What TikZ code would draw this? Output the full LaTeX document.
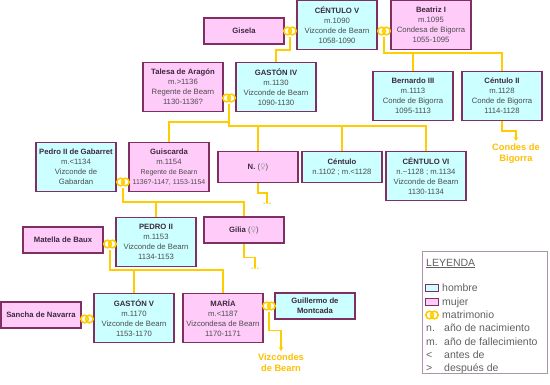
\documentclass[tikz,border=0pt]{standalone}
\usepackage{fontspec}
\setmainfont{Liberation Sans}
\newfontfamily\symfont{DejaVu Sans}
\usetikzlibrary{positioning, arrows.meta}

\definecolor{manfill}{RGB}{204,255,255}
\definecolor{womanfill}{RGB}{255,204,250}
\definecolor{border}{RGB}{128,48,96}
\definecolor{gold}{RGB}{255,204,0}
\definecolor{tagcol}{RGB}{255,190,0}
\definecolor{ink}{RGB}{60,40,60}
\definecolor{legframe}{RGB}{170,150,170}
\definecolor{legink}{RGB}{96,96,96}

\newcommand{\fem}{{\symfont\color{black!35}♀}}

\begin{document}
\begin{tikzpicture}[x=1pt, y=-1pt,
    person/.style={rectangle, draw=border, line width=1.2pt, fill=#1, minimum width=80pt, align=center, inner sep=1pt, font=\fontsize{7.7}{10}\selectfont, text=black!70},
    man/.style={person=manfill},
    woman/.style={person=womanfill},
    tall/.style={minimum height=49pt},
    short/.style={minimum height=26pt},
    wed/.style={rectangle, inner sep=0pt, minimum width=16pt, minimum height=11pt,
        path picture={\draw[gold, line width=1.6pt]
            ([xshift=-2.4pt]path picture bounding box.center) circle (3.8pt)
            ([xshift=2.4pt]path picture bounding box.center) circle (3.8pt);}},
    link/.style={draw=gold, line width=1.5pt},
    arrow/.style={link, -{Stealth[length=4pt, width=4.5pt]}},
    tag/.style={font=\fontsize{9.3}{11}\selectfont\bfseries, text=tagcol, align=center, inner sep=1pt},
    dots/.style={font=\fontsize{9}{9}\selectfont\bfseries, text=gold, inner sep=0pt},
    legtext/.style={font=\fontsize{10.5}{12}\selectfont, text=legink, inner sep=1pt},
]
\useasboundingbox (0,0) rectangle (550,384);

% ========== GENERATION 1 ==========
\node[woman, short] (gis) at (244,31) {\textbf{\color{ink}Gisela}};
\node[man, tall] (c5) at (337,25) {\textbf{\color{ink}CÉNTULO V}\\ m.1090\\ Vizconde de Bearn\\ 1058-1090};
\node[woman, tall] (bea) at (431,25) {\textbf{\color{ink}Beatriz I}\\ m.1095\\ Condesa de Bigorra\\ 1055-1095};

% ========== GENERATION 2 ==========
\node[woman, tall] (tal) at (183,87) {\textbf{\color{ink}Talesa de Aragón}\\ m.>1136\\ Regente de Bearn\\ 1130-1136?};
\node[man, tall] (g4) at (276,87) {\textbf{\color{ink}GASTÓN IV}\\ m.1130\\ Vizconde de Bearn\\ 1090-1130};
\node[man, tall] (b3) at (413,96) {\textbf{\color{ink}Bernardo III}\\ m.1113\\ Conde de Bigorra\\ 1095-1113};
\node[man, tall] (c2) at (502,96) {\textbf{\color{ink}Céntulo II}\\ m.1128\\ Conde de Bigorra\\ 1114-1128};

% ========== GENERATION 3 ==========
\node[man, tall] (pga) at (76,167) {\textbf{\color{ink}Pedro II de Gabarret}\\ m.<1134\\ Vizconde de\\ Gabardan};
\node[woman, tall] (gui) at (169,167) {\textbf{\color{ink}Guiscarda}\\ m.1154\\ {\fontsize{7}{9}\selectfont Regente de Bearn}\\ {\fontsize{7}{9}\selectfont 1136?-1147, 1153-1154}};
\node[woman, minimum height=31pt] (nn) at (258,167) {\textbf{\color{ink}N.} (\fem)};
\node[man, minimum height=31pt] (cen) at (342,167) {\textbf{\color{ink}Céntulo}\\ n.1102 ; m.<1128};
\node[man, tall] (c6) at (426,176) {\textbf{\color{ink}CÉNTULO VI}\\ n.\textasciitilde1128 ; m.1134\\ Vizconde de Bearn\\ 1130-1134};

% ========== GENERATION 4 ==========
\node[woman, short] (mat) at (63,240) {\textbf{\color{ink}Matella de Baux}};
\node[man, tall] (p2) at (156,242) {\textbf{\color{ink}PEDRO II}\\ m.1153\\ Vizconde de Bearn\\ 1134-1153};
\node[woman, short] (gil) at (244,230) {\textbf{\color{ink}Gilia} (\fem)};

% ========== GENERATION 5 ==========
\node[woman, short] (san) at (41,315) {\textbf{\color{ink}Sancha de Navarra}};
\node[man, tall] (g5) at (134,318) {\textbf{\color{ink}GASTÓN V}\\ m.1170\\ Vizconde de Bearn\\ 1153-1170};
\node[woman, tall] (mar) at (223,318) {\textbf{\color{ink}MARÍA}\\ m.<1187\\ Vizcondesa de Bearn\\ 1170-1171};
\node[man, short] (gmo) at (315,306) {\textbf{\color{ink}Guillermo de}\\ \textbf{\color{ink}Montcada}};

% ========== MARRIAGES ==========
\node[wed] (w1) at (290,31) {};
\node[wed] (w2) at (384,31) {};
\node[wed] (w3) at (229,98) {};
\node[wed] (w4) at (123,182) {};
\node[wed] (w5) at (110,244) {};
\node[wed] (w6) at (87,319) {};
\node[wed] (w7) at (269,306) {};

% ========== CONTINUATIONS ==========
\node[dots, anchor=north] (d1) at (267,203) {…};
\node[dots, anchor=north] (d2) at (255,268) {…};
\node[tag, anchor=north] (cb) at (516,143) {Condes de\\ Bigorra};
\node[tag, anchor=north] (vb) at (281,353) {Vizcondes\\ de Bearn};

% ========== DESCENT LINES ==========
\coordinate (j1) at (290,50);
\coordinate (j2) at (384,53);
\coordinate (j3) at (229,126);
\coordinate (j3l) at (229,122);
\coordinate (j4) at (123,202);
\coordinate (j5) at (110,270);

\draw[link] (w1.south) -- (j1) -| (g4.north);

\draw[link] (w2.south) -- (j2) -| (c2.north);
\draw[link] (j2 -| b3.north) -- (b3.north);

\draw[link] (w3.south) -- (j3) -| (c6.north);
\draw[link] (j3l) -| (gui.north);
\draw[link] (j3 -| nn.north) -- (nn.north);
\draw[link] (j3 -| cen.north) -- (cen.north);

\draw[link] (w4.south) -- (j4) -| (gil.north);
\draw[link] (j4 -| p2.north) -- (p2.north);

\draw[link] (w5.south) -- (j5) -| (mar.north);
\draw[link] (j5 -| g5.north) -- (g5.north);

\draw[link] (nn.south) -- ++(0,10) -| (d1.north);
\draw[link] (gil.south) -- ++(0,14) -| (d2.north);

\draw[arrow, shorten >=2pt] (c2.south) -- ++(0,10) -| (cb.north);
\draw[arrow, shorten >=2pt] (w7.south) -- ++(0,19) -| (vb.north);

% ========== LEGEND ==========
\node[draw=legframe, line width=1pt, minimum width=125pt, minimum height=122pt] (leg) at (484.5,312) {};
\node[legtext, anchor=base west] (legt) at (425,266) {\underline{LEYENDA}};

\node[man, minimum width=13pt, minimum height=7pt, line width=1pt] (lm) at (432,288) {};
\node[legtext, anchor=base west] at (441,291.5) {hombre};
\node[woman, minimum width=13pt, minimum height=7pt, line width=1pt] (lw) at (432,301.5) {};
\node[legtext, anchor=base west] at (441,305) {mujer};
\node[wed] (lr) at (432,315) {};
\node[legtext, anchor=base west] at (441,318.5) {matrimonio};

\node[legtext, anchor=base west] (ln) at (425,331.5) {n.};
\node[legtext, anchor=base west] at (443,331.5) {año de nacimiento};
\node[legtext, anchor=base west] (lf) at (425,345) {m.};
\node[legtext, anchor=base west] at (443,345) {año de fallecimiento};
\node[legtext, anchor=base west] (lb) at (425,358) {<};
\node[legtext, anchor=base west] at (443,358) {antes de};
\node[legtext, anchor=base west] (la) at (425,371) {>};
\node[legtext, anchor=base west] at (443,371) {después de};

\end{tikzpicture}
\end{document}
